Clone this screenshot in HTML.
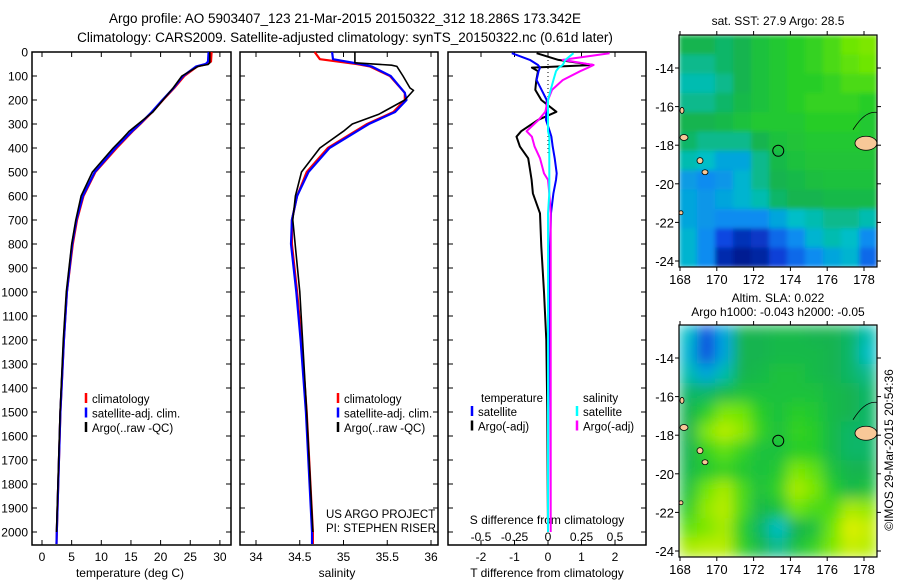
<!DOCTYPE html>
<html><head><meta charset="utf-8"><style>
body{margin:0;background:#fff}
svg{display:block;font-family:"Liberation Sans",sans-serif}
</style></head><body>
<svg id="c" width="900" height="580" viewBox="0 0 900 580">
<defs>
<filter id="blur" x="0" y="0" width="1" height="1"><feGaussianBlur stdDeviation="7" edgeMode="duplicate"/></filter>
<filter id="blur2" x="0" y="0" width="1" height="1"><feGaussianBlur stdDeviation="2.5" edgeMode="duplicate"/></filter>
<clipPath id="clip1"><rect x="679" y="35" width="198" height="232"/></clipPath>
<clipPath id="clip2"><rect x="679" y="325" width="198" height="232"/></clipPath>
</defs>
<text x="345" y="23" font-size="13.5" text-anchor="middle">Argo profile: AO 5903407_123 21-Mar-2015 20150322_312 18.286S 173.342E</text>
<text x="345" y="42" font-size="13.5" text-anchor="middle">Climatology: CARS2009. Satellite-adjusted climatology: synTS_20150322.nc (0.61d later)</text>
<g id="g"></g>
</svg>
<script>
// ---- data ----
const depthT = [0,40,50,60,100,150,200,250,300,330,400,500,600,700,800,1000,1200,1500,2000,2050];
const tempClim = [28.6,28.5,27.8,26.2,24.0,22.3,20.4,18.6,16.6,15.3,12.6,9.0,7.0,5.9,5.2,4.2,3.7,3.1,2.5,2.45];
const tempSat  = [28.1,28.0,27.6,26.0,23.8,22.2,20.3,18.5,16.5,15.2,12.4,8.9,6.9,5.8,5.1,4.2,3.7,3.1,2.5,2.45];
const depthA = [0,45,52,60,100,150,200,250,300,330,360,400,500,600,700,800,1000,1200,1500,2000];
const tempArgo = [28.3,28.3,28.0,26.3,23.6,22.1,20.4,18.7,16.2,14.7,13.6,12.0,8.5,6.6,5.7,5.0,4.1,3.6,3.05,2.45];
const depthS = [0,30,50,60,100,170,200,250,300,400,500,600,700,800,1000,1200,1500,2000,2050];
const salClim = [34.67,34.73,35.15,35.30,35.53,35.70,35.70,35.57,35.27,34.82,34.58,34.47,34.41,34.41,34.47,34.52,34.58,34.65,34.65];
const salSat  = [34.87,34.88,35.19,35.32,35.54,35.70,35.72,35.59,35.29,34.84,34.60,34.47,34.41,34.40,34.46,34.51,34.57,34.64,34.64];
const depthSA = [0,45,55,60,100,150,160,200,260,300,330,400,500,600,700,1000,1500,2000];
const salArgo = [35.13,35.13,35.55,35.61,35.68,35.76,35.80,35.70,35.40,35.10,35.00,34.73,34.52,34.45,34.42,34.50,34.58,34.65];
const depthD = [5,33,54,65,80,117,158,200,249,283,330,353,394,443,506,533,589,672,811,1000,1200,1500,2000];
const dTsat = [-1.08,-0.54,-0.3,-0.24,-0.28,-0.34,-0.19,-0.04,-0.05,-0.06,0.05,0.1,0.14,0.2,0.26,0.24,0.16,0.09,0.06,0.05,0.03,0.01,0.0];
const dTargo = [-0.34,0.31,1.35,-0.48,-0.3,-0.35,-0.38,-0.2,0.25,-0.3,-0.8,-0.94,-0.84,-0.59,-0.52,-0.49,-0.45,-0.24,-0.2,-0.12,-0.05,-0.02,0.0];
const dSsat = [0.19,0.13,0.11,0.08,0.06,0.04,0.02,0.0,0.0,0.0,0.0,0.01,0.01,0.01,0.01,0.01,0.01,0.0,0.0,0.0,0.0,0.0,0.0];
const dSargo = [0.46,0.11,0.34,0.3,0.24,0.11,0.03,0.0,-0.02,-0.07,-0.16,-0.12,-0.1,-0.06,-0.03,0.0,0.01,0.02,0.02,0.02,0.02,0.02,0.02];
const depthTicks = [0,100,200,300,400,500,600,700,800,900,1000,1100,1200,1300,1400,1500,1600,1700,1800,1900,2000];
const tempTicks = [0,5,10,15,20,25,30];
const salTicks = [34,34.5,35,35.5,36];
const dTTicks = [-2,-1,0,1,2];
const dSTicks = [-0.5,-0.25,0,0.25,0.5];
const lonTicks = [168,170,172,174,176,178];
const latTicks = [14,16,18,20,22,24];
const sstGrid = [
[.5,.5,.48,.5,.55,.58,.6,.62,.65,.7,.72],
[.45,.45,.48,.5,.55,.58,.6,.62,.65,.68,.7],
[.42,.42,.45,.5,.55,.58,.6,.6,.62,.65,.65],
[.45,.45,.48,.52,.55,.58,.6,.62,.62,.62,.6],
[.5,.5,.52,.55,.58,.58,.58,.6,.6,.6,.58],
[.48,.45,.45,.45,.5,.55,.56,.58,.58,.58,.58],
[.42,.4,.35,.35,.45,.52,.55,.56,.56,.56,.56],
[.33,.3,.32,.38,.45,.5,.52,.54,.55,.55,.55],
[.35,.32,.35,.38,.42,.48,.5,.5,.52,.52,.52],
[.35,.32,.3,.3,.3,.35,.4,.42,.45,.45,.42],
[.38,.3,.2,.12,.15,.25,.3,.38,.42,.4,.3],
[.38,.3,.1,.05,.08,.18,.25,.3,.35,.38,.25]];
const slaGrid = [
[.4,.2,.35,.5,.5,.52,.52,.5,.5,.48,.42],
[.38,.2,.35,.5,.5,.52,.52,.52,.5,.48,.4],
[.42,.35,.42,.5,.52,.55,.55,.52,.5,.48,.45],
[.48,.48,.52,.55,.55,.55,.55,.55,.52,.5,.48],
[.5,.6,.72,.7,.6,.55,.6,.58,.52,.5,.48],
[.5,.72,.8,.75,.62,.55,.62,.6,.52,.48,.48],
[.5,.62,.68,.62,.55,.55,.6,.6,.52,.48,.48],
[.52,.58,.62,.58,.55,.58,.72,.68,.55,.5,.5],
[.55,.7,.78,.65,.55,.62,.78,.72,.6,.52,.55],
[.6,.75,.8,.65,.52,.55,.7,.65,.65,.78,.75],
[.68,.72,.78,.6,.48,.4,.5,.55,.7,.85,.82],
[.78,.8,.8,.62,.52,.45,.55,.62,.72,.82,.8]];

const NS='http://www.w3.org/2000/svg';
const G=document.getElementById('g');
function mk(tag,at,parent){const e=document.createElementNS(NS,tag);for(const k in at)e.setAttribute(k,at[k]);(parent||G).appendChild(e);return e;}
function txt(x,y,s,size,anchor,name){const t=mk('text',{x:x,y:y,'font-size':size,'text-anchor':anchor||'middle'});t.textContent=s;


return t;}
const yD=d=>52+d*0.24;
const PT=[32,231],PS=[240,438],PD=[448,646],TOP=52,BOT=545;
const xT=v=>42+v*5.93, xS=v=>256+(v-34)*87.5, xDT=v=>548+v*33.5, xDS=v=>548+v*134;

function panel(px,name){
 const r=mk('rect',{x:px[0],y:TOP,width:px[1]-px[0],height:BOT-TOP,fill:'none',stroke:'#000','stroke-width':1.5});
 
 
 depthTicks.forEach(d=>{const y=yD(d);
  mk('line',{x1:px[0],x2:px[0]+5,y1:y,y2:y,stroke:'#000'});
  mk('line',{x1:px[1]-5,x2:px[1],y1:y,y2:y,stroke:'#000'});});
}
panel(PT,'temperature-panel');panel(PS,'salinity-panel');panel(PD,'difference-panel');
depthTicks.forEach(d=>txt(28,yD(d)+4.5,String(d),12,'end','depth-tick-label'));
function xticks(ticks,fx,y,name){ticks.forEach(v=>{const x=fx(v);
 mk('line',{x1:x,x2:x,y1:BOT,y2:BOT-5,stroke:'#000'});mk('line',{x1:x,x2:x,y1:TOP,y2:TOP+5,stroke:'#000'});
 txt(x,y,String(v),12,'middle',name);});}
xticks(tempTicks,xT,561,'temperature-tick-label');
xticks(salTicks,xS,561,'salinity-tick-label');
xticks(dTTicks,xDT,561,'t-diff-tick-label');
dSTicks.forEach(v=>txt(xDS(v),541,String(v),12,'middle','s-diff-tick-label'));
txt(130,577,'temperature (deg C)',12,'middle','temperature-axis-title');
txt(337,577,'salinity',12,'middle','salinity-axis-title');
txt(547,577,'T difference from climatology',12,'middle','t-diff-axis-title');
txt(547,524,'S difference from climatology',12,'middle','s-diff-axis-title');

function line(xs,ds,fx,col,w,name){
 const pts=xs.map((v,i)=>fx(v).toFixed(1)+','+yD(ds[i]).toFixed(1)).join(' ');
 const p=mk('polyline',{points:pts,fill:'none',stroke:col,'stroke-width':w,'stroke-linejoin':'round'});
 
 
}
line(tempClim,depthT,xT,'#f00',2.2,'temp-climatology-line');
line(tempSat,depthT,xT,'#00f',2.2,'temp-satellite-line');
line(tempArgo,depthA,xT,'#000',1.6,'temp-argo-line');
line(salClim,depthS,xS,'#f00',2.2,'sal-climatology-line');
line(salSat,depthS,xS,'#00f',2.2,'sal-satellite-line');
line(salArgo,depthSA,xS,'#000',1.6,'sal-argo-line');
mk('line',{x1:548,x2:548,y1:TOP,y2:yD(420),stroke:'#000','stroke-dasharray':'1,3'});
line(dTargo,depthD,xDT,'#000',2,'t-diff-argo-line');
line(dTsat,depthD,xDT,'#00f',2,'t-diff-satellite-line');
line(dSargo,depthD,xDS,'#f0f',2,'s-diff-argo-line');
line(dSsat,depthD,xDS,'#0ff',2,'s-diff-satellite-line');

function legend(x,y,entries,name){entries.forEach((e,i)=>{const yy=y+i*14.5;
 mk('line',{x1:x,x2:x,y1:yy-10,y2:yy,stroke:e[1],'stroke-width':2.5});
 txt(x+6,yy,e[0],11.5,'start',name);});}
legend(86,403,[['climatology','#f00'],['satellite-adj. clim.','#00f'],['Argo(..raw -QC)','#000']],'temp-legend-entry');
legend(338,403,[['climatology','#f00'],['satellite-adj. clim.','#00f'],['Argo(..raw -QC)','#000']],'sal-legend-entry');
txt(481,402,'temperature',11.5,'start','t-legend-header');
txt(583,402,'salinity',11.5,'start','s-legend-header');
legend(472,416,[['satellite','#00f'],['Argo(-adj)','#000']],'t-diff-legend-entry');
legend(577,416,[['satellite','#0ff'],['Argo(-adj)','#f0f']],'s-diff-legend-entry');
txt(326,518,'US ARGO PROJECT',11.5,'start','project-credit');
txt(326,532,'PI: STEPHEN RISER',11.5,'start','pi-credit');

// maps
const stops=[[0,[0,15,120]],[0.2,[10,70,225]],[0.3,[10,140,240]],[0.4,[0,190,200]],[0.5,[20,180,80]],[0.6,[40,205,40]],[0.7,[110,230,0]],[0.85,[220,240,0]],[1,[255,130,0]]];
function cmap(v){for(let i=1;i<stops.length;i++){if(v<=stops[i][0]){const a=stops[i-1],b=stops[i],t=(v-a[0])/(b[0]-a[0]);
 return 'rgb('+a[1].map((c,k)=>Math.round(c+(b[1][k]-c)*t)).join(',')+')';}}return 'rgb(255,130,0)';}
const MX=[679,877];
const xL=lon=>680+(lon-168)*18.4;
function map(top,grid,name,xlabY,filt,clip){
 const bot=top+232, cw=(MX[1]-MX[0])/11, ch=232/12;
 const cg=mk('g',{'clip-path':'url(#'+clip+')'});
 const gg=mk('g',{filter:'url(#'+filt+')'},cg);
 grid.forEach((row,r)=>row.forEach((v,c)=>{const cell=mk('rect',{x:MX[0]+c*cw,y:top+r*ch,width:cw+0.5,height:ch+0.5,fill:cmap(v)},gg);
  
  }));
 const yLat=lat=>top+33+(lat-14)*19.3;
 [[866,yLat(17.9),11,7],[684,yLat(17.6),4,3],[700,yLat(18.8),3,3],[705,yLat(19.4),3,2.5],[682,yLat(16.2),2,3],[681,yLat(21.5),2,2]].forEach(e=>{
  const isl=mk('ellipse',{cx:e[0],cy:e[1],rx:e[2],ry:e[3],fill:'#f8c898',stroke:'#000','stroke-width':0.8},cg);
  
  });
 mk('path',{d:'M853 '+(yLat(17.2))+' Q865 '+(yLat(16.2))+' 877 '+(yLat(16.3)),fill:'none',stroke:'#000','stroke-width':0.8},cg);
 const c=mk('circle',{cx:xL(173.34),cy:yLat(18.29),r:5.5,fill:'none',stroke:'#000','stroke-width':1});
 
 
 const fr=mk('rect',{x:MX[0],y:top,width:MX[1]-MX[0],height:232,fill:'none',stroke:'#000','stroke-width':1.2});
 
 
 latTicks.forEach(l=>{const y=yLat(l);mk('line',{x1:MX[0]-4,x2:MX[0],y1:y,y2:y,stroke:'#000'});mk('line',{x1:MX[1],x2:MX[1]+4,y1:y,y2:y,stroke:'#000'});
  txt(674,y+5,'-'+l,13,'end',name+'-lat-label');});
 lonTicks.forEach(l=>{const x=xL(l);mk('line',{x1:x,x2:x,y1:bot,y2:bot+4,stroke:'#000'});mk('line',{x1:x,x2:x,y1:top-4,y2:top,stroke:'#000'});
  txt(x,xlabY,String(l),13,'middle',name+'-lon-label');});
}
map(35,sstGrid,'sst-map',284,'blur2','clip1');
map(325,slaGrid,'sla-map',574,'blur','clip2');
txt(778,25,'sat. SST: 27.9 Argo: 28.5',12,'middle','sst-map-title');
txt(778,302,'Altim. SLA: 0.022',12,'middle','sla-map-title');
txt(778,316,'Argo h1000: -0.043 h2000: -0.05',12,'middle','sla-argo-heights');
const rt=txt(0,0,'©IMOS 29-Mar-2015 20:54:36',12,'middle','imos-timestamp');
rt.setAttribute('transform','translate(893,450) rotate(-90)');
</script>
</body></html>
